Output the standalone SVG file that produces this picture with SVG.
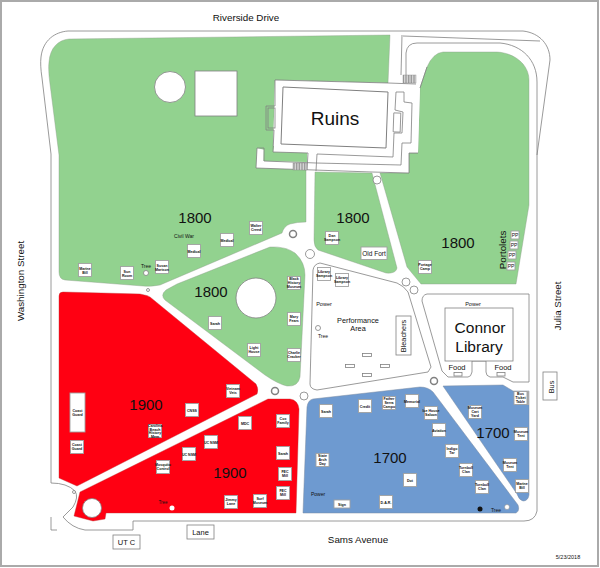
<svg xmlns="http://www.w3.org/2000/svg" width="600" height="568" viewBox="0 0 600 568">
<style>
text{font-family:"Liberation Sans",Arial,sans-serif;fill:#111;text-anchor:middle}
.l{fill:none;stroke:#808080;stroke-width:.8}
.w{fill:#fff;stroke:#808080;stroke-width:.8}
.g{fill:#92d28f;stroke:#8a9a88;stroke-width:.4}
.r{fill:#ff0012;stroke:#b33;stroke-width:.4}
.b{fill:#6e9ad0;stroke:#7a8aa0;stroke-width:.5}
.n rect{fill:#fff;stroke:#a0a0a0;stroke-width:.9}
.n text{font-size:3.600px;font-weight:bold}
.y{font-size:15px}
.s{font-size:7.300px}
.m{font-size:9.800px}
.c{font-size:15.500px}
.f{font-size:7.500px}
.u{font-size:7.500px}
.h{fill:url(#st);stroke:#888;stroke-width:.4}
.nn text{font-size:5px;font-weight:normal}
</style>
<defs>
<pattern id="st" width="1.6" height="4" patternUnits="userSpaceOnUse"><rect width="1.6" height="4" fill="#ddd"/><rect width=".7" height="4" fill="#888"/></pattern>
</defs>
<rect x="1" y="1" width="597" height="565" fill="#fff" stroke="#aaa" stroke-width="2"/>

<g id="roads">
<path class="l" d="M51,483 L51,154 L42,78 Q40,65 41,57 C43,40 55,32 68,31 L523,31 C540,33 550,45 550,60 L537,155 L537,511 Q535,521 524,521 L133,521 L133,530 L85,530 Q72,528 63,517 L73,507 Q79,497 75,491 Q67,483 51,483"/>
<path class="l" d="M51,517 L51,530 L57,530"/>
<path class="l" d="M403,36 L540,41"/>
<path class="l" d="M406,75 L406,53 Q407,43 417,43 L500,43 C522,45 537,60 537,82 L537,155"/>
<path class="l" d="M402,35 L401,75"/>
</g>

<g id="zones">
<path class="g" d="M69,39 L390,35 L388,83 L275,80 L273,152 L306,170 L306,222 Q297,222 290,224 Q284,226 282,233 L160,285 Q150,287 143,286 L65,280 Q59,279 59,272 L59,155 L50,84 Q48,70 49,62 C50,48 58,40 69,39 Z"/>
<path class="g" d="M315,172 L372,173 L397,268 Q396,274 386,273 L318,250 Q314,247 314,240 Z"/>
<path class="g" d="M443,52 L497,52 C515,53 529,65 529,80 L529,205 L516,284 L421,284 L407,267 L380,173 L409,173 L409,153 L418,153 L420,88 L427,67 Q433,53 443,52 Z"/>
<path class="g" d="M177,284 L270,247 Q285,246 295,253 Q305,262 305,275 L300,377 Q298,387 287,386 Q278,384 265,375 L165,300 Q160,295 166,290 Z"/>
<path class="r" d="M63,292 L140,294 Q146,295 150,297 L256,384 Q259,389 257,394 L77,486 L59,478 L59,296 Q59,292 63,292 Z"/>
<path class="r" d="M268,399 L290,399 Q298,400 299,409 L296,513 L106,513 L105,519 L93,521 L74,516 L80,492 Z"/>
<path class="b" d="M313,399 L420,387 Q428,387 433,392 L518,505 Q520,511 516,513 L303,513 L307,407 Q308,400 313,399 Z"/>
<path class="b" d="M443,386 L503,385 L513,391 L529,391 L529,495 Q528,501 523,501 Q519,500 517,494 Z"/>
<rect x="526" y="391" width="3" height="14" fill="#aaa"/>
</g>

<g id="ruins-plan">
<path fill="#fff" stroke="none" d="M275,80 L388,83 L416,84 L420,88 L418,153 L409,153 L409,173 L372,172 L256,168 L257,148 L273,152 Z"/>
<path fill="#92d28f" stroke="none" d="M264,146 L274,146 L273,152 L307,153 L307,162 L263.500,161 Z"/>
<path class="l" d="M266,106 L275,106 L275,80 L388,83 L416,84"/>
<path class="l" d="M266,106 L266,130 L274,130 L273,152 L308,153"/>
<rect class="l" x="268" y="108" width="7" height="20"/>
<path class="l" d="M264,161 L264,148 L257,148 L256,168 L372,172 L409,173 L409,153 L418,153"/>
<path class="l" d="M264,161 L316,163 M317,154 L393,157 L394,133 L402,133 L403,112 L395,110 L396,92 L404,92 L404,102 L412,103 L411,143 L402,143 L401,165 L316,163"/>
<rect class="l" x="393.500" y="113" width="7" height="19" transform="rotate(2 397 122)"/>
<path class="l" d="M308,153 L307,170 M317,154 L316,171 M420,88 L427,67"/>
<rect class="h" x="293" y="163" width="14" height="7"/>
<rect class="h" x="403" y="75" width="13" height="8"/>
<path d="M283,87 L388,92 L386,148 L281,144 Z" fill="#fff" stroke="#808080" stroke-width="1"/>
<circle cx="170" cy="87" r="15.500" class="w"/>
<rect x="195" y="71" width="42" height="45" class="w"/>
<circle cx="256" cy="298" r="20" class="w"/>
<circle cx="92" cy="508" r="9.500" class="w"/>
<path class="w" d="M320,263 L397,283 Q404,286 408,292 L431,367 L428,372 L317,390 Q310,389 310,384 L313,270 Q314,264 320,263 Z"/>
<path class="w" d="M427,294 L529,294 L529,382 L513,382 L503,377 L490,377 Q486,376 486,372 L486,361 L472,361 L472,372 Q471,377 468,377 L448,377 L442,371 L422,301 Q422,295 427,294 Z"/>
<rect x="445" y="308" width="68" height="53" class="w"/>
<rect x="396" y="316" width="15" height="39" class="w"/>
<rect x="362.500" y="353.500" width="9" height="3" class="w"/>
<rect x="345.500" y="364.500" width="9" height="3" class="w"/>
<rect x="380.500" y="364.500" width="9" height="3" class="w"/>
<rect x="362.500" y="373.500" width="9" height="3" class="w"/>
<rect x="454" y="372.500" width="8" height="3.500" class="w"/>
<rect x="497" y="372.500" width="8" height="3.500" class="w"/>
<circle cx="293" cy="234" r="3.500" fill="#fff" stroke="#808080" stroke-width="1.500"/>
<circle cx="310" cy="254" r="4.500" class="w"/>
<circle cx="377" cy="180" r="4" class="w"/>
<circle cx="406" cy="282" r="4" class="w"/>
<circle cx="414" cy="290" r="4" class="w"/>
<circle cx="304" cy="396" r="4" class="w"/>
<circle cx="434" cy="381" r="3.500" fill="#fff" stroke="#808080" stroke-width="1.500"/>
<circle cx="275" cy="391" r="3.500" fill="#fff" stroke="#808080" stroke-width="1.500"/>
<circle cx="148" cy="290" r="1.500" class="w"/>
<circle cx="74" cy="492" r="1.500" class="w"/>
<circle cx="146" cy="273" r="2.500" class="w"/>
<circle cx="318" cy="328" r="2.500" class="w"/>
<circle cx="172" cy="508" r="2.500" fill="#fff"/>
<circle cx="507" cy="507" r="2.500" fill="#fff" stroke="#808080" stroke-width=".5"/>
<circle cx="480" cy="509" r="2.500" fill="#111"/>
</g>

<g id="labels">
<text x="246" y="21" class="m">Riverside Drive</text>
<text x="358" y="543" class="m">Sams Avenue</text>
<text class="m" transform="translate(24,281) rotate(-90)">Washington Street</text>
<text class="m" transform="translate(561,306) rotate(-90)">Julia Street</text>
<text x="568" y="559" font-size="5.500">5/23/2018</text>
<text x="335" y="125" font-size="19">Ruins</text>
<text x="480" y="333" class="c">Connor</text>
<text x="479" y="352" class="c">Library</text>
<text x="195" y="223" class="y">1800</text>
<text x="353" y="223" class="y">1800</text>
<text x="458" y="248" class="y">1800</text>
<text x="211" y="297" class="y">1800</text>
<text x="146" y="410" class="y">1900</text>
<text x="230" y="478" class="y">1900</text>
<text x="390" y="463" class="y">1700</text>
<text x="493" y="438" class="y">1700</text>
<text x="184" y="238" font-size="5">Civil War</text>
<text x="146" y="268" font-size="5">Tree</text>
<text x="323" y="338" font-size="5">Tree</text>
<text x="163" y="504" font-size="4.500" fill="#555">Tree</text>
<text x="496" y="512" font-size="5">Tree</text>
<text x="324" y="306" font-size="5.500">Power</text>
<text x="473" y="306" font-size="5.500">Power</text>
<text x="318" y="496" font-size="5" fill="#444">Power</text>
<text x="358" y="323" class="s">Performance</text>
<text x="358" y="331" class="s">Area</text>
<text class="s" transform="translate(406,336) rotate(-90)">Bleachers</text>
<text class="f" x="457" y="370">Food</text>
<text class="f" x="503" y="370">Food</text>
<text class="m" transform="translate(506,250) rotate(-90)">Portolets</text>
</g>

<g id="bus"><rect x="543" y="372" width="14" height="28" class="w"/><text class="s" transform="translate(554,387) rotate(-90)">Bus</text></g>
<g id="utc"><rect x="113" y="535" width="27" height="14" class="w"/><text x="126.500" y="545" class="u">UT C</text></g>
<g id="lane"><rect x="187" y="525" width="27" height="14" class="w"/><text x="200.500" y="535" class="u">Lane</text></g>
<g id="oldfort" class="n"><rect x="361" y="247" width="26" height="12.500"/><text x="374" y="256" style="font-size:6.500px;font-weight:normal">Old Fort</text></g>

<g id="pp" class="n nn">
<g id="pp1"><rect x="511" y="231" width="8" height="8"/><text x="515" y="237">PP</text></g>
<g id="pp2"><rect x="510" y="241" width="8" height="8"/><text x="514" y="247">PP</text></g>
<g id="pp3"><rect x="508" y="251" width="8" height="8"/><text x="512" y="257">PP</text></g>
<g id="pp4"><rect x="507" y="262" width="8" height="8"/><text x="511" y="268">PP</text></g>
</g>

<g id="coastguard1" class="n"><rect x="70" y="393" width="15" height="39"/><text x="77.500" y="412">Coast</text><text x="77.500" y="416">Guard</text></g>

<g id="markers" class="n">
<g id="n1"><rect x="78.500" y="263.500" width="13" height="13"/><text x="85" y="270">Marine</text><text x="85" y="274">Bill</text></g>
<g id="n2"><rect x="120.500" y="266.500" width="13" height="13"/><text x="127" y="273">Sun</text><text x="127" y="277">Room</text></g>
<g id="n3"><rect x="155.500" y="260.500" width="13" height="13"/><text x="162" y="267">Susan</text><text x="162" y="271">Martson</text></g>
<g id="n4"><rect x="187.500" y="244.500" width="13" height="13"/><text x="194" y="252.500">Medical</text></g>
<g id="n5"><rect x="220.500" y="233.500" width="13" height="13"/><text x="227" y="241.500">Medical</text></g>
<g id="n6"><rect x="249.500" y="221.500" width="13" height="13"/><text x="256" y="227">Walter</text><text x="256" y="231">Creed</text></g>
<g id="n7"><rect x="287.500" y="276.500" width="13" height="13"/><text x="294" y="280">Black</text><text x="294" y="284">History</text><text x="294" y="288">Museum</text></g>
<g id="n8"><rect x="287.500" y="312.500" width="13" height="13"/><text x="294" y="318">Mary</text><text x="294" y="322">Fears</text></g>
<g id="n9"><rect x="287.500" y="348.500" width="13" height="13"/><text x="294" y="354">Charlie</text><text x="294" y="358">Cracker</text></g>
<g id="n10"><rect x="247.500" y="343.500" width="13" height="13"/><text x="254" y="349">Light</text><text x="254" y="353">House</text></g>
<g id="n11"><rect x="208.500" y="316.500" width="13" height="13"/><text x="215" y="324.500">Sarah</text></g>
<g id="n12"><rect x="325.500" y="231.500" width="13" height="13"/><text x="332" y="237">Dan</text><text x="332" y="241">Sampson</text></g>
<g id="n13"><rect x="418.500" y="260.500" width="13" height="13"/><text x="425" y="266">Portage</text><text x="425" y="270">Camp</text></g>
<g id="n14"><rect x="317.500" y="267.500" width="13" height="13"/><text x="324" y="273">Library</text><text x="324" y="277">Sampson</text></g>
<g id="n15"><rect x="335.500" y="273.500" width="13" height="13"/><text x="342" y="279">Library</text><text x="342" y="283">Sampson</text></g>
<g id="n16"><rect x="70.500" y="440.500" width="13" height="13"/><text x="77" y="446">Coast</text><text x="77" y="450">Guard</text></g>
<g id="n17"><rect x="226.500" y="384.500" width="13" height="13"/><text x="233" y="390">Vietnam</text><text x="233" y="394">Vets</text></g>
<g id="n18"><rect x="185.500" y="403.500" width="13" height="13"/><text x="192" y="411.500">CNSS</text></g>
<g id="n19"><rect x="148.500" y="424.500" width="13" height="13"/><text x="155" y="427">Carolina</text><text x="155" y="430.500">Beach</text><text x="155" y="434">History</text><text x="155" y="437.500">Mem</text></g>
<g id="n20"><rect x="156.500" y="460.500" width="13" height="13"/><text x="163" y="466">Mosquito</text><text x="163" y="470">Control</text></g>
<g id="n21"><rect x="182.500" y="447.500" width="13" height="13"/><text x="189" y="455.500">UC NSM</text></g>
<g id="n22"><rect x="204.500" y="435.500" width="13" height="13"/><text x="211" y="443.500">UC NSM</text></g>
<g id="n23"><rect x="238.500" y="416.500" width="13" height="13"/><text x="245" y="424.500">MDC</text></g>
<g id="n24"><rect x="276.500" y="414.500" width="13" height="13"/><text x="283" y="420">Cox</text><text x="283" y="424">Family</text></g>
<g id="n25"><rect x="276.500" y="446.500" width="13" height="13"/><text x="283" y="454.500">Sarah</text></g>
<g id="n26"><rect x="278.500" y="467.500" width="13" height="13"/><text x="285" y="473">FEC</text><text x="285" y="477">Mill</text></g>
<g id="n27"><rect x="276.500" y="486.500" width="13" height="13"/><text x="283" y="492">FEC</text><text x="283" y="496">Mill</text></g>
<g id="n28"><rect x="253.500" y="494.500" width="13" height="13"/><text x="260" y="500">Surf</text><text x="260" y="504">Museum</text></g>
<g id="n29"><rect x="224.500" y="495.500" width="13" height="13"/><text x="231" y="501">Jimmy</text><text x="231" y="505">Lane</text></g>
<g id="n30"><rect x="319.500" y="404.500" width="13" height="13"/><text x="326" y="412.500">Sarah</text></g>
<g id="n31"><rect x="358.500" y="399.500" width="13" height="13"/><text x="365" y="407.500">Credit</text></g>
<g id="n32"><rect x="382.500" y="396.500" width="13" height="13"/><text x="389" y="399.500">Father</text><text x="389" y="403.500">Serra</text><text x="389" y="407.500">Campo</text></g>
<g id="n33"><rect x="405.500" y="394.500" width="13" height="13"/><text x="412" y="402.500">Memorial</text></g>
<g id="n34"><rect x="424.500" y="406.500" width="13" height="13"/><text x="431" y="412">Ice House</text><text x="431" y="416">Saloon</text></g>
<g id="n35"><rect x="432.500" y="423.500" width="13" height="13"/><text x="439" y="431.500">Aviation</text></g>
<g id="n36"><rect x="445.500" y="444.500" width="13" height="13"/><text x="452" y="450">Indigo</text><text x="452" y="454">Tar</text></g>
<g id="n37"><rect x="459.500" y="463.500" width="13" height="13"/><text x="466" y="469">Turnbull</text><text x="466" y="473">Clan</text></g>
<g id="n38"><rect x="475.500" y="480.500" width="13" height="13"/><text x="482" y="486">Turnbull</text><text x="482" y="490">Clan</text></g>
<g id="n39"><rect x="403.500" y="473.500" width="13" height="13"/><text x="410" y="481.500">Dot</text></g>
<g id="n40"><rect x="379.500" y="495.500" width="13" height="13"/><text x="386" y="503.500">D.A.R.</text></g>
<g id="n41"><rect x="334" y="500" width="16" height="8"/><text x="342" y="505.500">Sign</text></g>
<g id="n42"><rect x="316" y="453.500" width="13" height="13"/><text x="322.500" y="456.500">State</text><text x="322.500" y="460.500">Arch</text><text x="322.500" y="464.500">Day</text></g>
<g id="n43"><rect x="468.500" y="405.500" width="13" height="13"/><text x="475" y="409">Museum</text><text x="475" y="413">Cart</text><text x="475" y="417">Yard</text></g>
<g id="n44"><rect x="514" y="391.500" width="13" height="13"/><text x="520.500" y="395">Bus</text><text x="520.500" y="399">Ticket</text><text x="520.500" y="403">Table</text></g>
<g id="n45"><rect x="514.500" y="427.500" width="13" height="13"/><text x="521" y="433">Museum</text><text x="521" y="437">Tent</text></g>
<g id="n46"><rect x="503.500" y="458.500" width="13" height="13"/><text x="510" y="464">Museum</text><text x="510" y="468">Tent</text></g>
<g id="n47"><rect x="515.500" y="479.500" width="13" height="13"/><text x="522" y="485">Marine</text><text x="522" y="489">Bill</text></g>
</g>
</svg>
